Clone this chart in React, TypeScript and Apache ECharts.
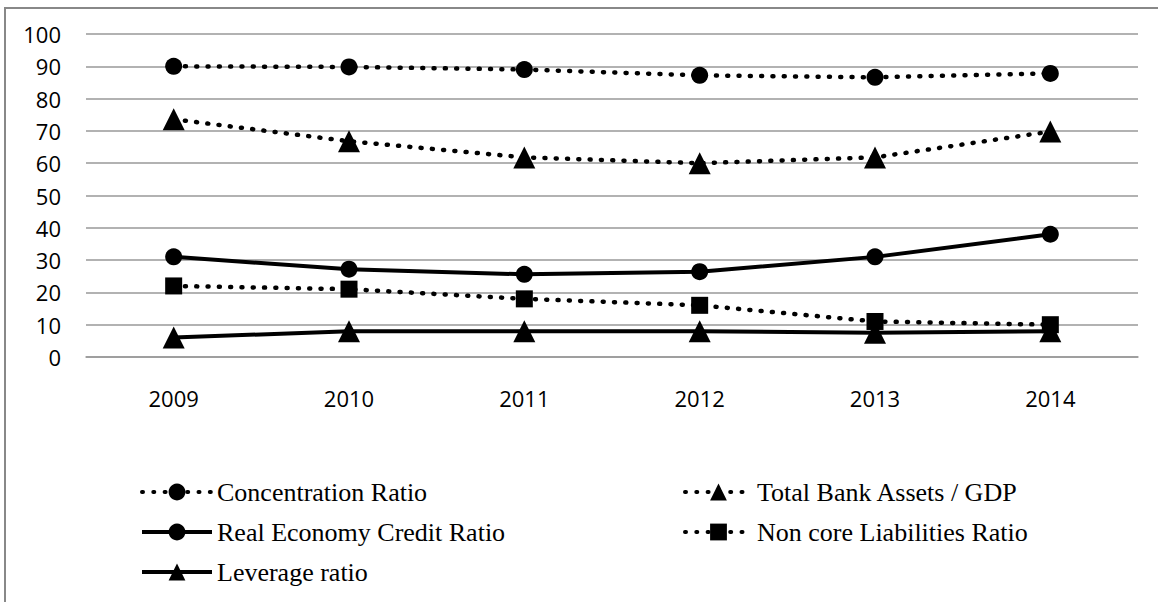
import React, { useEffect, useRef } from "react";
import * as echarts from "echarts";

const years = ["2009", "2010", "2011", "2012", "2013", "2014"];
const concentration = [90, 89.8, 89, 87.2, 86.6, 87.8];
const totalBankAssets = [73.6, 66.8, 61.8, 60, 61.8, 69.8];
const realEconomy = [31, 27.2, 25.6, 26.4, 31, 38];
const nonCore = [22, 21, 18, 16, 11, 10];
const leverage = [6, 8, 8, 8, 7.5, 8];

const dotted = { color: "#000", width: 4.5, type: [1, 10.3], cap: "round" as const };
const solid = { color: "#000", width: 4, type: "solid" as const };

export default function App() {
  const ref = useRef<HTMLDivElement>(null);
  useEffect(() => {
    if (!ref.current) return;
    const chart = echarts.init(ref.current, undefined, { renderer: "svg" });
    const legendText = { fontFamily: "Liberation Serif", fontSize: 26, color: "#000" };
    chart.setOption({
      animation: false,
      backgroundColor: "#fff",
      grid: { left: 86, right: 20, top: 34, bottom: 245, containLabel: false },
      xAxis: {
        type: "category",
        data: years,
        boundaryGap: true,
        axisLine: { show: true, lineStyle: { color: "#999", width: 1.5 } },
        axisTick: { show: false },
        axisLabel: { fontFamily: "Open Sans", fontSize: 22, color: "#000", margin: 30 },
      },
      yAxis: {
        type: "value",
        min: 0,
        max: 100,
        interval: 10,
        axisLine: { show: false },
        axisTick: { show: false },
        splitLine: { lineStyle: { color: "#999", width: 1.5 } },
        axisLabel: { fontFamily: "Open Sans", fontSize: 22, color: "#000", margin: 25 },
      },
      legend: [
        {
          orient: "vertical",
          left: 135,
          top: 474,
          itemWidth: 70,
          itemHeight: 21,
          itemGap: 14,
          textStyle: legendText,
          lineStyle: { width: 4 },
          data: ["Concentration Ratio", "Real Economy Credit Ratio", "Leverage ratio"],
        },
        {
          orient: "vertical",
          left: 678,
          top: 474,
          itemWidth: 67,
          itemHeight: 21,
          itemGap: 14,
          textStyle: legendText,
          lineStyle: { width: 4 },
          data: ["Total Bank Assets / GDP", "Non core Liabilities Ratio"],
        },
      ],
      graphic: [
        {
          type: "rect",
          shape: { x: 5, y: 8, width: 1160, height: 600 },
          style: { fill: "none", stroke: "#888", lineWidth: 2 },
          silent: true,
        },
      ],
      series: [
        {
          name: "Concentration Ratio",
          type: "line",
          data: concentration,
          symbol: "circle",
          symbolSize: 17,
          itemStyle: { color: "#000" },
          lineStyle: dotted,
        },
        {
          name: "Total Bank Assets / GDP",
          type: "line",
          data: totalBankAssets,
          symbol: "triangle",
          symbolSize: [22, 22],
          itemStyle: { color: "#000" },
          lineStyle: dotted,
        },
        {
          name: "Real Economy Credit Ratio",
          type: "line",
          data: realEconomy,
          symbol: "circle",
          symbolSize: 17,
          itemStyle: { color: "#000" },
          lineStyle: solid,
        },
        {
          name: "Non core Liabilities Ratio",
          type: "line",
          data: nonCore,
          symbol: "rect",
          symbolSize: 17,
          itemStyle: { color: "#000" },
          lineStyle: dotted,
        },
        {
          name: "Leverage ratio",
          type: "line",
          data: leverage,
          symbol: "triangle",
          symbolSize: [22, 22],
          itemStyle: { color: "#000" },
          lineStyle: solid,
        },
      ],
    });
    return () => chart.dispose();
  }, []);
  return (
    <div
      ref={ref}
      style={{ position: "fixed", left: 0, top: 0, width: 1158, height: 602 }}
    />
  );
}
